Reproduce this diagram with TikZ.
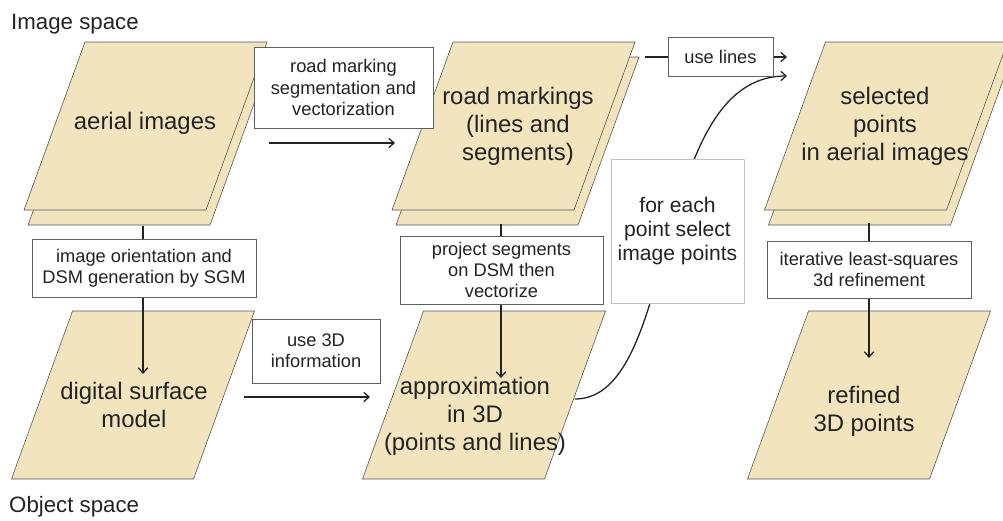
\documentclass[tikz,border=0pt]{standalone}
\usepackage{fontspec}
\setmainfont{Liberation Sans}
\usetikzlibrary{arrows.meta}
\definecolor{sheetfill}{RGB}{242,229,190}
\definecolor{sheetline}{RGB}{85,85,85}
\definecolor{boxline}{RGB}{95,95,95}
\definecolor{faintline}{RGB}{195,195,195}
\definecolor{inktext}{RGB}{35,35,35}
\newcommand{\sheet}[2]{\draw [sheet] ({#1-60.5},{#2-84}) -- ++(182,0) -- ++(-61,168) -- ++(-182,0) -- cycle;}
\newcommand{\sheets}[2]{\sheet{#1+4}{#2+15}\sheet{#1}{#2}}
\tikzset{
  sheet/.style={fill=sheetfill, draw=sheetline, line width=0.5pt},
  bigtext/.style={font=\fontsize{20.4}{23.9}\selectfont, align=center, text=inktext},
  labelbox/.style={draw=boxline, fill=white, line width=0.6pt, font=\fontsize{15.6}{18}\selectfont, align=center, text=inktext},
  faintbox/.style={labelbox, draw=faintline, font=\fontsize{18}{20.5}\selectfont},
  boxsize/.style 2 args={minimum width=#1*0.03cm, minimum height=#2*0.03cm},
  flow/.style={draw=inktext, line width=1.1pt, -{Straight Barb[length=4.5pt,width=8pt]}},
  spacetext/.style={font=\fontsize{19}{22}\selectfont, text=inktext}
}
\begin{document}
\begin{tikzpicture}[x=0.03cm, y=-0.03cm]
\tikzstyle{every node}+=[inner sep=0pt]
\useasboundingbox (0,0) rectangle (1003,520);
\sheets{145.5}{126}
\sheets{513.5}{126}
\sheets{886}{126}
\sheet{133}{395}
\sheet{484}{395}
\sheet{869}{395}
\node [spacetext, anchor=base west] (imgspace) at (11,29) {Image space};
\node [spacetext, anchor=base west] (objspace) at (9,512) {Object space};
\node [bigtext] (aerial) at (145,123) {aerial images};
\node [bigtext] (road) at (518,126) {road markings\\(lines and\\segments)};
\node [bigtext] (selected) at (885,126) {selected\\points\\in aerial images};
\node [bigtext] (dsm) at (134,405) {digital surface\\model};
\node [bigtext] (approx) at (475,416) {approximation\\in 3D\\(points and lines)};
\node [bigtext] (refined) at (864,411) {refined\\3D points};
\coordinate (aerialfoot) at (143,226);
\coordinate (dsmtop) at (143,374);
\coordinate (roadfoot) at (501,224);
\coordinate (approxtop) at (501,378);
\coordinate (selfoot) at (869,223);
\coordinate (refinedtop) at (869,358);
\coordinate (segfrom) at (269,143);
\coordinate (segto) at (395,143);
\coordinate (threedfrom) at (244,397);
\coordinate (threedto) at (370,397);
\coordinate (linesfrom) at (645,57);
\coordinate (linesto) at (787,57);
\coordinate (approxout) at (575,399);
\coordinate (pointsto) at (787,76);
\draw [flow] (aerialfoot) -- (dsmtop);
\draw [flow] (roadfoot) -- (approxtop);
\draw [flow] (selfoot) -- (refinedtop);
\draw [flow] (segfrom) -- (segto);
\draw [flow] (threedfrom) -- (threedto);
\draw [flow] (linesfrom) -- (linesto);
\draw [flow] (approxout) .. controls (680,399) and (650,76) .. (pointsto);
\node [labelbox, boxsize={179}{81}] (seg) at (343.5,87.5) {road marking\\segmentation and\\vectorization};
\node [labelbox, boxsize={105}{39}] (uselines) at (720.5,56.5) {use lines};
\node [faintbox, boxsize={133}{144}] (pick) at (677.5,231) {for each\\point select\\image points};
\node [labelbox, boxsize={224}{58}] (orient) at (144,268) {image orientation and\\DSM generation by SGM};
\node [labelbox, boxsize={128}{64}] (use3d) at (316,351) {use 3D\\information};
\node [labelbox, boxsize={203}{68}] (project) at (501.5,270) {project segments\\on DSM then\\vectorize};
\node [labelbox, boxsize={204}{57}] (refine) at (869,269.5) {iterative least-squares\\3d refinement};
\end{tikzpicture}
\end{document}
